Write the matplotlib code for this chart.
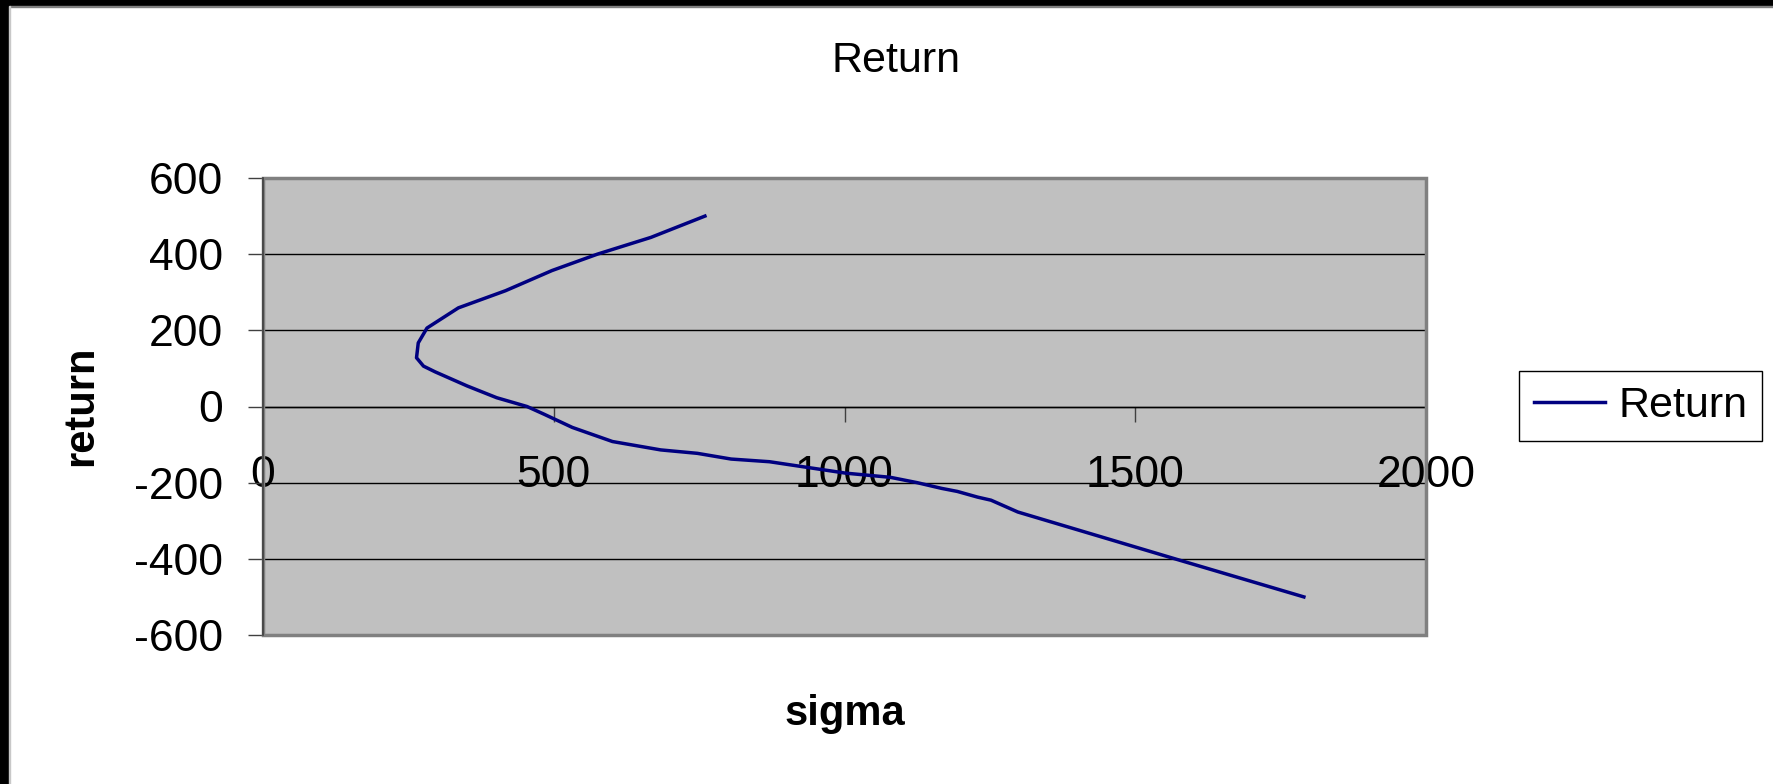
import matplotlib
matplotlib.use("Agg")
import matplotlib.pyplot as plt
from matplotlib.patches import Rectangle


# Efficient frontier: portfolio standard deviation vs expected return
SIGMA = [760, 667, 575, 497, 417, 336, 282, 267, 264, 276, 296, 351, 402,
         454, 483, 532, 601, 684, 747, 805, 871, 1002, 1079, 1125, 1167,
         1194, 1229, 1252, 1298, 1575, 1790]
RETURN = [500, 444, 400, 357, 304, 259, 206, 167, 128, 106, 91, 54, 23,
          0, -20, -55, -92, -114, -123, -138, -145, -175, -186, -200, -215,
          -223, -238, -246, -277, -403, -500]

X_TICKS = [0, 500, 1000, 1500, 2000]
Y_TICKS = [-600, -400, -200, 0, 200, 400, 600]

W, H = 1773, 784
LINE_COLOUR = "#000080"
PLOT_BG = "#C0C0C0"
BORDER = "#808080"

plt.rcParams["font.family"] = ["Liberation Sans", "DejaVu Sans"]
plt.rcParams["axes.unicode_minus"] = False


def px(x, y):
    """Pixel position (from top-left) to figure fraction."""
    return x / W, 1 - y / H


def main():
    fig = plt.figure(figsize=(W / 100, H / 100), dpi=100)
    fig.patch.set_facecolor("white")

    # dark frame on top and left edges
    fig.patches.append(Rectangle((0, 1 - 6 / H), 1, 6 / H, color="black",
                                 transform=fig.transFigure, zorder=0))
    fig.patches.append(Rectangle((0, 1 - 7 / H), 1, 1 / H, color="#808080",
                                 transform=fig.transFigure, zorder=0))
    fig.patches.append(Rectangle((0, 0), 9 / W, 1, color="black",
                                 transform=fig.transFigure, zorder=0))
    fig.patches.append(Rectangle((9 / W, 0), 1 / W, 1 - 6 / H, color="#c8c8c8",
                                 transform=fig.transFigure, zorder=0))

    left, top = px(263, 178)
    right, bottom = px(1426, 635)
    ax = fig.add_axes([left, bottom, right - left, top - bottom])
    ax.set_facecolor(PLOT_BG)

    ax.plot(SIGMA, RETURN, color=LINE_COLOUR, lw=2.5, label="Return",
            zorder=3)

    ax.set_xlim(0, 2000)
    ax.set_ylim(-600, 600)
    ax.set_xticks(X_TICKS)
    ax.set_yticks(Y_TICKS)
    ax.yaxis.grid(True, color="black", lw=1.0)
    ax.set_axisbelow(True)

    # x axis crosses at zero, tick labels sit well below it
    for side in ("top", "right"):
        ax.spines[side].set_visible(False)
    ax.spines["bottom"].set_position(("data", 0))
    ax.spines["bottom"].set_color("black")
    ax.spines["bottom"].set_linewidth(1.0)
    ax.spines["left"].set_color("#404040")
    ax.spines["left"].set_linewidth(1.2)

    ax.tick_params(axis="x", direction="out", length=11, width=1,
                   color="#404040", pad=24, labelsize=32)
    ax.tick_params(axis="y", direction="out", length=11, width=1,
                   color="#404040", pad=18, labelsize=32)

    # grey plot border
    ax.add_patch(Rectangle((0, 0), 1, 1, transform=ax.transAxes, fill=False,
                           edgecolor=BORDER, lw=2.5, clip_on=False, zorder=4))
    ax.spines["left"].set_zorder(5)

    fig.text(*px(896, 61), "Return", ha="center", va="center", fontsize=31)
    fig.text(*px(81, 406), "return", ha="center", va="center", rotation=90,
             fontsize=30, fontweight="bold")
    fig.text(*px(845, 725), "sigma", ha="center", va="baseline",
             fontsize=30, fontweight="bold")

    leg = ax.legend(loc="center left", bbox_to_anchor=px(1519, 406),
                    bbox_transform=fig.transFigure, fontsize=31,
                    frameon=True, fancybox=False, framealpha=1,
                    handlelength=1.65, handletextpad=0.3, borderpad=0.35,
                    borderaxespad=0)
    leg.get_frame().set_edgecolor("black")
    leg.get_frame().set_linewidth(1.0)

    fig.savefig("out.png", dpi=100)


if __name__ == "__main__":
    main()
